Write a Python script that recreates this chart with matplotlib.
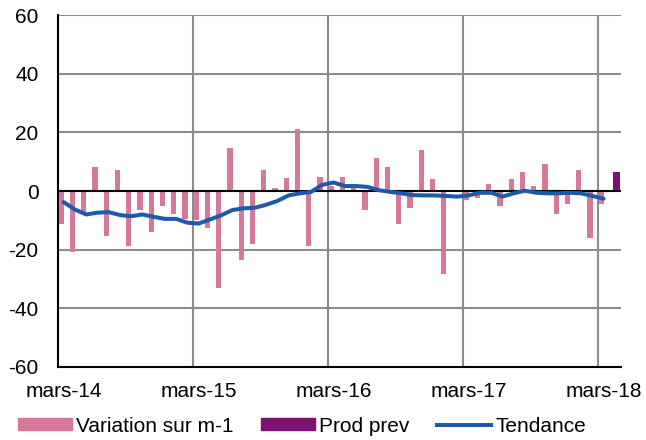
import numpy as np
import matplotlib.pyplot as plt
from matplotlib.patches import Patch
from matplotlib.lines import Line2D

plt.rcParams['font.family'] = ['Liberation Sans', 'DejaVu Sans']
plt.rcParams['axes.unicode_minus'] = False

# monthly variation (m-1), mars-14 .. mars-18
variation = [-11.2, -20.8, -7.5, 8.3, -15.4, 7.1, -18.8, -6.5, -14.0, -5.1, -8.0, -9.4,
             -9.9, -12.7, -33.1, 14.5, -23.5, -18.2, 7.1, 0.9, 4.3, 21.3, -18.8, 4.9,
             1.7, 4.9, 1.1, -6.5, 11.1, 8.3, -11.2, -5.8, 13.9, 4.2, -28.3, -0.5,
             -3.1, -2.5, 2.3, -5.1, 4.2, 6.4, 1.6, 9.1, -8.0, -4.6, 7.1, -16.0,
             -4.6]
# forecast, avril-18
prod_prev = [6.5]
# trend, mars-14 .. mars-18
tendance = [-3.8, -6.3, -8.0, -7.4, -7.2, -8.2, -8.6, -8.0, -8.8, -9.5, -9.5, -10.8,
            -11.1, -9.7, -8.3, -6.5, -5.9, -5.7, -4.7, -3.4, -1.5, -0.8, -0.3, 2.1,
            2.9, 1.7, 1.7, 1.4, 0.3, -0.3, -0.8, -1.4, -1.5, -1.5, -1.7, -1.9,
            -1.5, -0.6, -0.6, -1.9, -0.8, 0.1, -0.6, -0.8, -0.8, -0.6, -0.8, -1.7,
            -2.6]
tick_labels = ['mars-14', 'mars-15', 'mars-16', 'mars-17', 'mars-18']

pink = '#D5789B'
purple = '#7B1171'
blue = '#1F5AA8'
grid_c = '#8C8C8C'

fig = plt.figure(figsize=(6.46, 4.4), dpi=100)
ax = fig.add_axes([58/646, 1-367/440, (620.5-58)/646, (367-15)/440])

xv = np.arange(len(variation))
ax.bar(xv - 0.45, variation, width=0.47, align='edge', color=pink, zorder=3)
xp = np.arange(len(variation), len(variation) + len(prod_prev))
ax.bar(xp - 0.15, prod_prev, width=0.63, align='edge', color=purple, zorder=3)
xt = np.arange(len(tendance))
ax.plot(xt, tendance, color=blue, lw=2.9, zorder=5, solid_capstyle='round')

ax.axhline(0, color='black', lw=1.5, zorder=4)

ax.set_xlim(-0.5, 49.5)
ax.set_ylim(-60, 60)
ax.set_yticks(range(-60, 61, 20))
ax.set_xticks(range(0, 49, 12))
ax.set_xticklabels(tick_labels)
ax.tick_params(axis='both', length=0)
ax.tick_params(axis='x', labelsize=15, pad=11)
ax.tick_params(axis='y', labelsize=15, pad=14)

for y in range(-40, 61, 20):
    if y != 0:
        ax.axhline(y, color=grid_c, lw=1.5, zorder=1)
for x in range(12, 49, 12):
    ax.axvline(x - 0.5, color=grid_c, lw=1.5, zorder=1)

for s in ['top', 'right']:
    ax.spines[s].set_visible(False)
ax.spines['left'].set_color('black')
ax.spines['left'].set_linewidth(1.5)
ax.spines['bottom'].set_color('black')
ax.spines['bottom'].set_linewidth(1.5)

handles = [Patch(color=pink), Patch(color=purple), Line2D([], [], color=blue, lw=2.9)]
fig.legend(handles, ['Variation sur m-1', 'Prod prev', 'Tendance'],
           loc='center left', bbox_to_anchor=(18/646, 1-426/440), ncol=3,
           frameon=False, fontsize=15, handlelength=2.6, handleheight=0.5,
           handletextpad=0.2, columnspacing=1.3, borderpad=0, borderaxespad=0)

fig.savefig('out.png', dpi=100)
